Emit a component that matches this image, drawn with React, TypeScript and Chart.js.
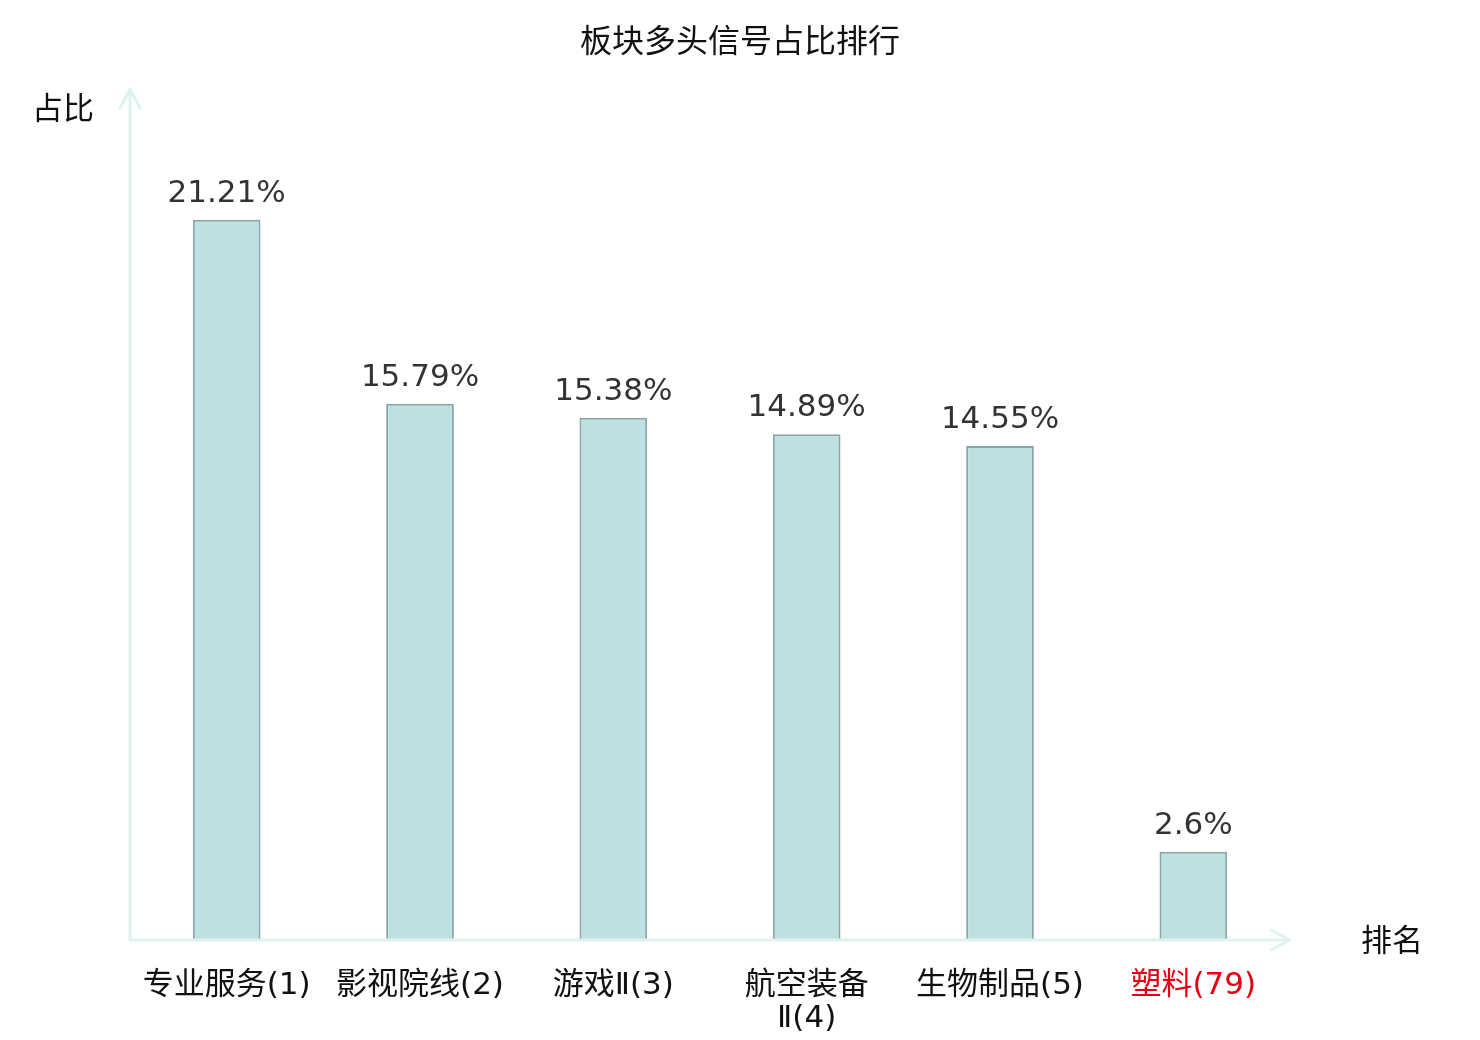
import React, { useEffect, useRef } from "react";
import { Chart, registerables } from "chart.js";

Chart.register(...registerables);

const TITLE = "板块多头信号占比排行";
const Y_NAME = "占比";
const X_NAME = "排名";
const categories: (string | string[])[] = [
  "专业服务(1)",
  "影视院线(2)",
  "游戏Ⅱ(3)",
  ["航空装备", "Ⅱ(4)"],
  "生物制品(5)",
  "塑料(79)",
];
const values: number[] = [21.21, 15.79, 15.38, 14.89, 14.55, 2.6];
const labelColors: string[] = ["#111", "#111", "#111", "#111", "#111", "#e60012"];
const Y_MAX = 25;

const FONT = "'DejaVu Sans', 'Noto Sans CJK SC', sans-serif";
const AXIS_COLOR = "#dff2ef";

const decorPlugin = {
  id: "decor",
  afterDatasetsDraw(chart: any) {
    const { ctx, chartArea, width } = chart;
    const { left, right, top, bottom } = chartArea;
    ctx.save();
    // axes with arrows
    ctx.strokeStyle = AXIS_COLOR;
    ctx.lineWidth = 3;
    ctx.lineCap = "round";
    ctx.lineJoin = "round";
    const yTip = top - 2;
    const xTip = right;
    ctx.beginPath();
    ctx.moveTo(left, bottom);
    ctx.lineTo(left, yTip);
    ctx.moveTo(left - 10, yTip + 19);
    ctx.lineTo(left, yTip);
    ctx.lineTo(left + 10, yTip + 19);
    ctx.moveTo(left, bottom);
    ctx.lineTo(xTip, bottom);
    ctx.moveTo(xTip - 19, bottom - 10);
    ctx.lineTo(xTip, bottom);
    ctx.lineTo(xTip - 19, bottom + 10);
    ctx.stroke();

    // value labels
    const meta = chart.getDatasetMeta(0);
    ctx.fillStyle = "#333";
    ctx.font = `31px ${FONT}`;
    ctx.textAlign = "center";
    ctx.textBaseline = "alphabetic";
    meta.data.forEach((bar: any, i: number) => {
      ctx.fillText(`${values[i]}%`, bar.x, bar.y - 18);
    });

    // title
    ctx.fillStyle = "#111";
    ctx.font = `32px ${FONT}`;
    ctx.textBaseline = "middle";
    ctx.fillText(TITLE, width / 2, 44);

    // axis names
    ctx.font = `31px ${FONT}`;
    ctx.fillText(Y_NAME, left - 67, top + 20);
    ctx.fillText(X_NAME, right + 102, bottom + 3);
    ctx.restore();
  },
};

export default function App() {
  const ref = useRef<HTMLCanvasElement | null>(null);
  useEffect(() => {
    if (!ref.current) return;
    const chart = new Chart(ref.current, {
      type: "bar",
      data: {
        labels: categories,
        datasets: [
          {
            data: values,
            backgroundColor: "#bde0e3",
            borderColor: "#88a6a7",
            borderWidth: 2,
            categoryPercentage: 1,
            barPercentage: 0.35,
          },
        ],
      },
      options: {
        responsive: false,
        animation: false,
        devicePixelRatio: 1,
        layout: { padding: { left: 130, right: 190, top: 91, bottom: 0 } },
        plugins: {
          legend: { display: false },
          tooltip: { enabled: false },
          title: { display: false },
        },
        scales: {
          x: {
            grid: { display: false, drawTicks: false },
            border: { display: false },
            ticks: {
              padding: 30,
              color: (c: any) => labelColors[c.index] || "#111",
              font: { family: FONT, size: 31, lineHeight: 1.05 },
              maxRotation: 0,
              autoSkip: false,
            },
            afterFit: (scale: any) => {
              scale.height = 100;
            },
          },
          y: {
            display: false,
            min: 0,
            max: Y_MAX,
          },
        },
      },
      plugins: [decorPlugin],
    });
    return () => chart.destroy();
  }, []);
  return (
    <div style={{ position: "absolute", left: 0, top: 0, width: 1480, height: 1040, background: "#fff" }}>
      <canvas ref={ref} width={1480} height={1040} />
    </div>
  );
}
